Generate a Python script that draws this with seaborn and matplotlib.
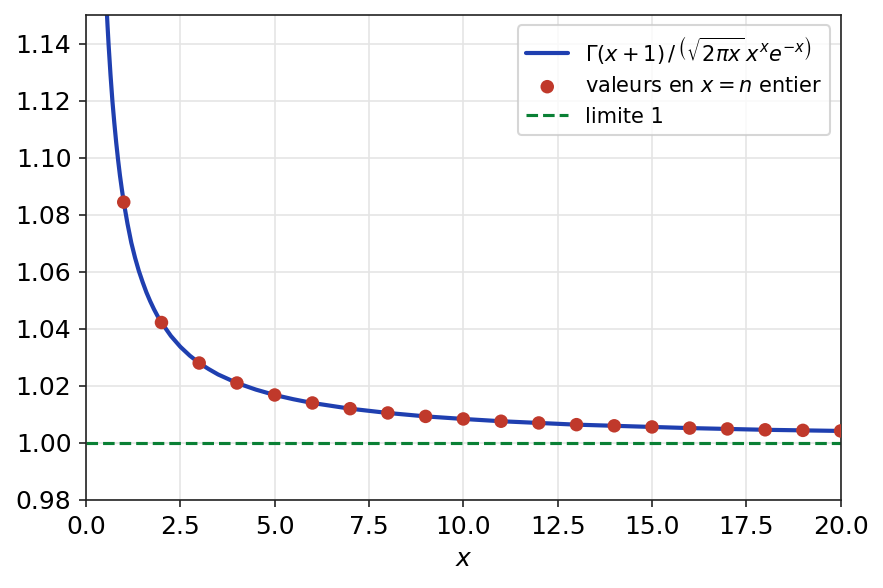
import numpy as np
import pandas as pd
import seaborn as sns
import matplotlib
matplotlib.use("Agg")
import matplotlib.pyplot as plt

# Ratio values
curve_x = [0.50, 0.55, 0.57, 0.60, 0.65, 0.70, 0.75, 0.80, 0.85, 0.90, 0.95, 1.0, 1.1, 1.2, 1.3,
           1.4, 1.5, 1.6, 1.7, 1.8, 1.9, 2.0, 2.25, 2.5, 2.75, 3.0, 3.25, 3.5, 4.0, 4.5, 5.0, 5.5,
           6.0, 7.0, 8.0, 9.0, 10.0, 11.0, 12.0, 13.0, 14.0, 15.0, 16.0, 17.0, 18.0, 19.0, 20.0]
curve_y = [1.1658, 1.1515, 1.1464, 1.1393, 1.1289, 1.1198, 1.1122, 1.1053, 1.0992, 1.0937, 1.0889,
           1.0844, 1.0768, 1.0702, 1.0649, 1.0603, 1.0564, 1.0528, 1.0497, 1.0469, 1.0444, 1.0422,
           1.0375, 1.0337, 1.0306, 1.0280, 1.0259, 1.0240, 1.0210, 1.0187, 1.0168, 1.0153, 1.0140,
           1.0120, 1.0105, 1.0093, 1.0084, 1.0076, 1.0070, 1.0064, 1.0060, 1.0056, 1.0052, 1.0049,
           1.0046, 1.0044, 1.0042]

# Values at integer n
n_vals = list(range(1, 21))
n_ratio = [1.0844, 1.0422, 1.0280, 1.0210, 1.0168, 1.0140, 1.0120, 1.0105, 1.0093, 1.0084,
           1.0076, 1.0070, 1.0064, 1.0060, 1.0056, 1.0052, 1.0049, 1.0046, 1.0044, 1.0042]

limit_x = [0.0, 20.0]
limit_y = [1.0, 1.0]

sns.set_style("ticks")
plt.rcParams['font.family'] = ['DejaVu Sans']

fig, ax = plt.subplots(figsize=(5.893, 3.92), dpi=150)
fig.subplots_adjust(left=0.0973, right=0.951, top=0.9745, bottom=0.1497)

sns.lineplot(x=curve_x, y=curve_y, ax=ax, color="#1f3fb0", linewidth=2,
             label=r'$\Gamma(x+1)\,/\,\left(\sqrt{2\pi x}\,x^x e^{-x}\right)$')
sns.scatterplot(x=n_vals, y=n_ratio, ax=ax, color="#c0392b", s=42, edgecolor="none",
                zorder=3, label=r'valeurs en $x = n$ entier')
sns.lineplot(x=limit_x, y=limit_y, ax=ax, color="#0a8035", linestyle="--", linewidth=1.5,
             label="limite 1")

ax.set_xlim(0, 20)
ax.set_ylim(0.98, 1.15)
ax.set_yticks(np.arange(0.98, 1.141, 0.02))
ax.set_xlabel(r'$x$', fontsize=12, color="black")
ax.set_ylabel("")
ax.tick_params(labelsize=12, labelcolor="black", color="#222222")
ax.grid(True, color="#e5e5e5", linewidth=0.8)
for sp in ax.spines.values():
    sp.set_visible(True)
    sp.set_color("#222222")
leg = ax.legend(loc="upper right", fontsize=10)
for t in leg.get_texts():
    t.set_color("black")

fig.savefig("out.png", dpi=150)
